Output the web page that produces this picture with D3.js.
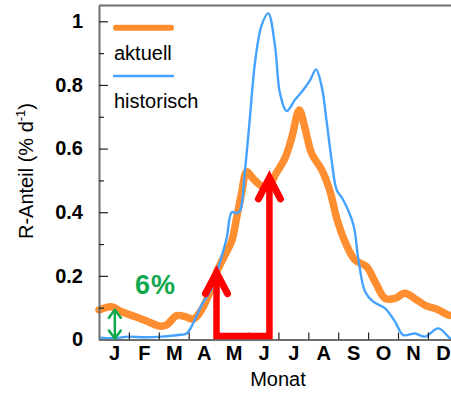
<!DOCTYPE html>
<html>
<head>
<meta charset="utf-8">
<script src="https://cdn.jsdelivr.net/npm/d3@7"></script>
<style>
  html, body { margin: 0; padding: 0; background: #fff; }
  svg { display: block; }
  text { font-family: "Liberation Sans", Arial, Helvetica, sans-serif; }
</style>
</head>
<body>
<svg id="chart" width="451" height="394"></svg>
<script>
// ---- data (x = month position, 0 = start of January, 12 = end of December) ----
const monthLabels = ["J","F","M","A","M","J","J","A","S","O","N","D"];
const yTicks = [0, 0.2, 0.4, 0.6, 0.8, 1];
const yTickLabels = ["0", "0.2", "0.4", "0.6", "0.8", "1"];
const yMinorTicks = [0.1, 0.3, 0.5, 0.7, 0.9];

const aktuellMonth = [0.0, 0.42, 0.76, 1.20, 1.65, 2.04, 2.26, 2.60, 2.88, 3.15, 3.43, 3.71, 3.94, 4.16, 4.44, 4.61, 4.77, 4.94, 5.16, 5.44, 5.66, 5.89, 6.22, 6.44, 6.70, 6.89, 7.11, 7.45, 7.73, 7.95, 8.23, 8.56, 8.95, 9.23, 9.57, 9.90, 10.23, 10.63, 10.96, 11.29, 11.68, 11.85];
const aktuellValue = [0.093, 0.103, 0.087, 0.072, 0.056, 0.042, 0.046, 0.075, 0.072, 0.064, 0.093, 0.150, 0.213, 0.256, 0.310, 0.386, 0.460, 0.527, 0.505, 0.482, 0.478, 0.517, 0.570, 0.632, 0.721, 0.664, 0.585, 0.533, 0.465, 0.381, 0.307, 0.250, 0.229, 0.182, 0.129, 0.129, 0.145, 0.124, 0.105, 0.096, 0.077, 0.075];

const historischMonth = [0.0, 0.54, 0.98, 1.54, 2.10, 2.65, 2.93, 3.15, 3.43, 3.77, 4.05, 4.27, 4.44, 4.61, 4.72, 4.88, 5.05, 5.22, 5.44, 5.66, 5.89, 6.05, 6.28, 6.56, 6.83, 7.06, 7.26, 7.45, 7.62, 7.78, 7.95, 8.16, 8.51, 8.67, 8.90, 9.17, 9.57, 9.90, 10.18, 10.57, 10.90, 11.35, 11.74, 11.85];
const historischValue = [0.006, 0.004, 0.009, 0.007, 0.009, 0.014, 0.019, 0.051, 0.108, 0.161, 0.245, 0.318, 0.400, 0.397, 0.405, 0.530, 0.700, 0.873, 0.988, 1.025, 0.920, 0.775, 0.718, 0.754, 0.784, 0.815, 0.849, 0.794, 0.680, 0.564, 0.470, 0.440, 0.360, 0.255, 0.150, 0.119, 0.098, 0.056, 0.014, 0.019, 0.009, 0.035, 0.004, 0.0];

// annotation anchors (month position, value)
const redArrowLeft = { m: 3.93, top: 0.21, bottom: 0.011 };
const redArrowRight = { m: 5.70, top: 0.508, bottom: 0.011 };
const greenArrow = { m: 0.53, top: 0.097, bottom: 0.0 };
const annotationText = "6%";
const seriesNames = ["aktuell", "historisch"];

// ---- layout ----
const svg = d3.select("#chart");
const axisColor = "#6e6e6e";
const orange = "#ff8e30";
const blue = "#46a2ff";
const red = "#ff0000";
const green = "#10a84e";

const x = d3.scaleLinear().domain([0, 12]).range([99, 99 + 29.9 * 12]);
const y = d3.scaleLinear().domain([0, 1.05]).range([339.5, 5.4]);

// frame line (top)
svg.append("line")
  .attr("x1", x(0)).attr("x2", 451).attr("y1", y(1.05)).attr("y2", y(1.05))
  .attr("stroke", axisColor).attr("stroke-width", 2);

// ---- curves ----
const line = d3.line()
  .x(d => x(d[0])).y(d => y(d[1]))
  .curve(d3.curveCatmullRom.alpha(0.5));

const aktuell = aktuellMonth.map((m, i) => [m, aktuellValue[i]]);
const historisch = historischMonth.map((m, i) => [m, historischValue[i]]);

svg.append("path").datum(aktuell)
  .attr("d", line).attr("fill", "none")
  .attr("stroke", orange).attr("stroke-width", 7.5)
  .attr("stroke-linejoin", "round").attr("stroke-linecap", "round");

svg.append("path").datum(historisch)
  .attr("d", line).attr("fill", "none")
  .attr("stroke", blue).attr("stroke-width", 2.4)
  .attr("stroke-linejoin", "round");

// ---- axes ----
const gy = svg.append("g").attr("transform", `translate(${x(0)},0)`);
gy.call(d3.axisLeft(y).tickValues(yTicks)
  .tickFormat((d, i) => yTickLabels[i]).tickSize(-9).tickSizeOuter(0).tickPadding(16));
gy.select(".domain").attr("stroke", axisColor).attr("stroke-width", 2);
gy.selectAll(".tick line").attr("stroke", "#222").attr("stroke-width", 1.2);
gy.selectAll(".tick text").attr("font-size", 20).attr("font-weight", "bold")
  .attr("fill", "#000").attr("font-family", "'Liberation Sans', Arial, sans-serif");

const gyMinor = svg.append("g").attr("transform", `translate(${x(0)},0)`);
gyMinor.call(d3.axisLeft(y).tickValues(yMinorTicks).tickFormat("").tickSize(-5).tickSizeOuter(0));
gyMinor.select(".domain").remove();
gyMinor.selectAll(".tick line").attr("stroke", "#222").attr("stroke-width", 1.2);

const gx = svg.append("g").attr("transform", `translate(0,${y(0)})`);
gx.call(d3.axisBottom(x).tickValues(d3.range(1, 12)).tickFormat("").tickSize(-7).tickSizeOuter(0));
gx.select(".domain").attr("stroke", axisColor).attr("stroke-width", 2);
gx.selectAll(".tick line").attr("stroke", "#222").attr("stroke-width", 1.2);

const gxLab = svg.append("g").attr("transform", `translate(0,${y(0)})`);
gxLab.call(d3.axisBottom(x).tickValues(monthLabels.map((_, i) => i + 0.5))
  .tickFormat((d, i) => monthLabels[i]).tickSize(0).tickPadding(6));
gxLab.select(".domain").remove();
gxLab.selectAll(".tick text").attr("font-size", 20).attr("font-weight", "bold")
  .attr("fill", "#000").attr("font-family", "'Liberation Sans', Arial, sans-serif");

// axis titles
svg.append("text")
  .attr("x", 278).attr("y", 386)
  .attr("text-anchor", "middle").attr("font-size", 20).attr("fill", "#000")
  .text("Monat");

const yt = svg.append("text")
  .attr("transform", "translate(33,171) rotate(-90)")
  .attr("text-anchor", "middle").attr("font-size", 20).attr("fill", "#000");
yt.append("tspan").text("R-Anteil (% d");
yt.append("tspan").attr("font-size", 13).attr("dy", -8).text("-1");
yt.append("tspan").attr("dy", 8).text(")");

// ---- legend ----
svg.append("line").attr("x1", 116).attr("x2", 171).attr("y1", 27.7).attr("y2", 27.7)
  .attr("stroke", orange).attr("stroke-width", 6).attr("stroke-linecap", "round");
svg.append("text").attr("x", 114).attr("y", 60).attr("font-size", 20).attr("fill", "#000").text(seriesNames[0]);
svg.append("line").attr("x1", 113).attr("x2", 174).attr("y1", 76).attr("y2", 76)
  .attr("stroke", blue).attr("stroke-width", 2.4);
svg.append("text").attr("x", 114).attr("y", 108).attr("font-size", 20).attr("fill", "#000").text(seriesNames[1]);

// ---- red arrows ----
const rl = redArrowLeft, rr = redArrowRight;
svg.append("path")
  .attr("d", `M${x(rl.m)},${y(rl.top)} L${x(rl.m)},${y(rl.bottom)} L${x(rr.m)},${y(rr.bottom)} L${x(rr.m)},${y(rr.top)}`)
  .attr("fill", "none").attr("stroke", red).attr("stroke-width", 6.5)
  .attr("stroke-linejoin", "miter").attr("stroke-linecap", "butt");
[rl, rr].forEach(a => {
  const tx = x(a.m), ty = y(a.top);
  svg.append("path")
    .attr("d", `M${tx - 11},${ty + 21} L${tx},${ty} L${tx + 11},${ty + 21}`)
    .attr("fill", "none").attr("stroke", red).attr("stroke-width", 7)
    .attr("stroke-linecap", "round").attr("stroke-linejoin", "miter");
});

// ---- green double arrow + label ----
const gxp = x(greenArrow.m), gTop = y(greenArrow.top), gBot = y(greenArrow.bottom);
svg.append("line").attr("x1", gxp).attr("x2", gxp).attr("y1", gTop + 1).attr("y2", gBot - 1)
  .attr("stroke", green).attr("stroke-width", 2.5);
svg.append("path")
  .attr("d", `M${gxp - 6},${gTop + 9} L${gxp},${gTop + 1} L${gxp + 6},${gTop + 9} M${gxp - 6},${gBot - 9} L${gxp},${gBot - 1} L${gxp + 6},${gBot - 9}`)
  .attr("fill", "none").attr("stroke", green).attr("stroke-width", 2.5)
  .attr("stroke-linecap", "round").attr("stroke-linejoin", "round");
svg.append("text").attr("x", 135).attr("y", 294)
  .attr("font-family", "'DejaVu Sans', Verdana, sans-serif")
  .attr("font-size", 27).attr("font-weight", "bold").attr("fill", green)
  .attr("letter-spacing", 1)
  .text(annotationText);
</script>
</body>
</html>
